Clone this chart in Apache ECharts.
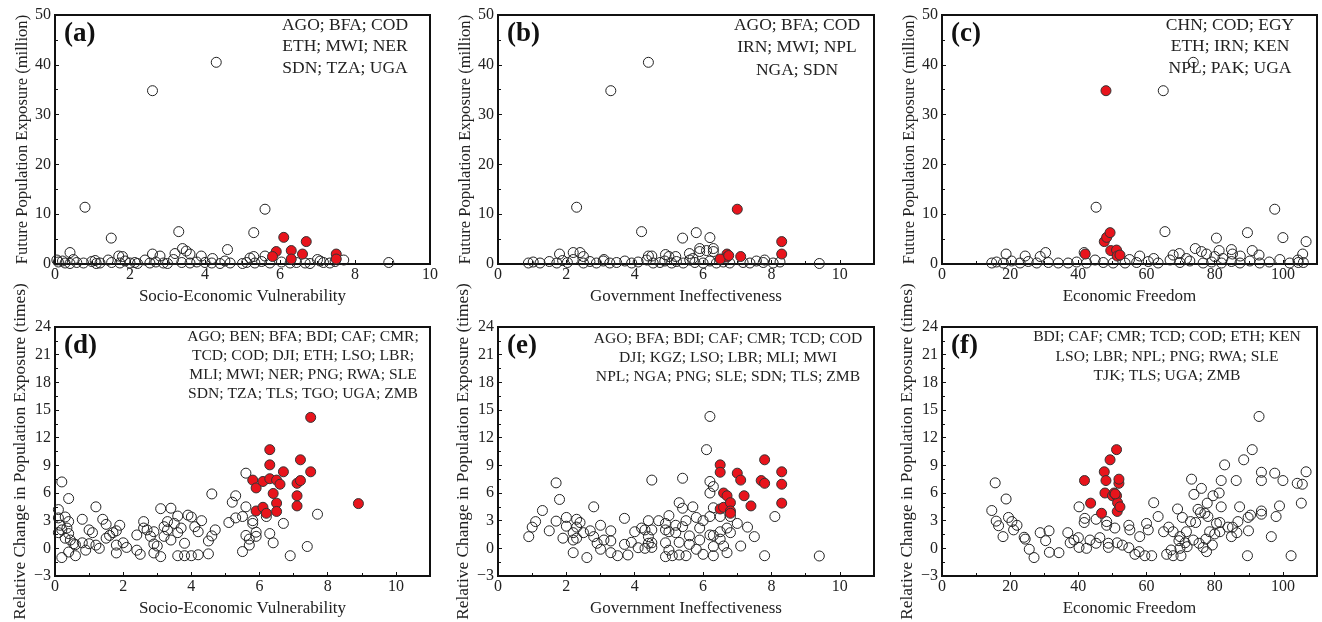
<!DOCTYPE html>
<html><head><meta charset="utf-8">
<script src="https://cdn.jsdelivr.net/npm/echarts@6/dist/echarts.min.js"></script>
<style>html,body{margin:0;padding:0;background:#fff}#c{width:1322px;height:622px}</style>
</head><body><div id="c"></div>
<script>
// ---------- DATA ----------
const xTitles = ['Socio-Economic Vulnerability','Government Ineffectiveness','Economic Freedom'];
const yTitleTop = 'Future Population Exposure (million)';
const yTitleBottom = 'Relative Change in Population Exposure (times)';
const panelLetters = ['(a)','(b)','(c)','(d)','(e)','(f)'];
const annA = ['AGO; BFA; COD','ETH; MWI; NER','SDN; TZA; UGA'];
const annB = ['AGO; BFA; COD','IRN; MWI; NPL','NGA; SDN'];
const annC = ['CHN; COD; EGY','ETH; IRN; KEN','NPL; PAK; UGA'];
const annD = ['AGO; BEN; BFA; BDI; CAF; CMR;','TCD; COD; DJI; ETH; LSO; LBR;','MLI; MWI; NER; PNG; RWA; SLE','SDN; TZA; TLS; TGO; UGA; ZMB'];
const annE = ['AGO; BFA; BDI; CAF; CMR; TCD; COD','DJI; KGZ; LSO; LBR; MLI; MWI','NPL; NGA; PNG; SLE; SDN; TLS; ZMB'];
const annF = ['BDI; CAF; CMR; TCD; COD; ETH; KEN','LSO; LBR; NPL; PNG; RWA; SLE','TJK; TLS; UGA; ZMB'];

const aOpen = [[2.6,34.8],[4.3,40.5],[0.8,11.4],[5.6,11.0],[1.5,5.2],[3.3,6.5],[5.3,6.3],[0.4,2.3],[4.6,2.9],[3.4,3.1],[3.5,2.6],[3.2,2.1],[3.6,2.0],[2.6,2.0],[2.8,1.6],[1.7,1.6],[1.8,1.5],[3.9,1.6],[4.2,1.1],[5.3,1.5],[5.6,1.6],[7.7,0.8],[8.9,0.3],
[0.09,0.4],[0.27,0.2],[0.49,0.9],[0.58,0.3],[0.76,0.2],[0.98,0.5],[1.07,0.7],[1.2,0.2],[1.42,0.8],[1.51,0.3],[1.73,0.2],[1.87,0.6],[2.0,0.2],[2.13,0.3],[2.4,0.8],[2.53,0.2],[2.69,0.4],[2.89,0.2],[3.16,0.9],[3.38,0.3],[3.6,0.2],[3.78,0.4],[4.0,0.3],[4.18,0.2],[4.53,0.6],[4.67,0.2],[5.11,0.3],[5.2,1.2],[5.33,0.2],[5.51,0.5],[5.73,0.2],[6.04,0.4],[6.27,0.2],[6.44,0.3],[6.67,0.2],[7.07,0.6],[7.16,0.3],[7.33,0.2],[7.47,0.5],[0.05,0.8],[0.2,0.6],[0.4,0.1],[1.1,0.1],[2.2,0.1],[3.0,0.1],[4.4,0.1],[5.0,0.1],[6.8,0.1],[7.0,0.9]];
const aRed = [[6.1,5.35],[6.7,4.5],[5.9,2.5],[5.8,1.5],[6.3,2.7],[6.3,1.0],[6.6,2.0],[7.5,2.0],[7.5,1.0]];

const bOpen = [[3.3,34.8],[4.4,40.5],[2.3,11.4],[4.2,6.5],[5.8,6.3],[5.4,5.2],[6.2,5.3],[1.8,2.0],[2.2,2.3],[2.4,2.3],[2.5,1.5],[3.1,0.9],[4.4,1.6],[4.5,1.6],[4.9,1.9],[5.0,1.5],[5.2,1.5],[5.6,2.1],[5.9,3.1],[5.9,2.5],[6.1,2.7],[6.3,3.1],[6.3,2.5],[5.7,1.1],[7.8,0.8],[9.4,0.1],
[0.89,0.2],[1.03,0.4],[1.23,0.2],[1.5,0.5],[1.72,0.2],[1.89,0.7],[2.03,0.3],[2.2,0.9],[2.5,0.2],[2.69,0.5],[2.88,0.2],[3.08,0.6],[3.27,0.2],[3.47,0.3],[3.71,0.6],[3.91,0.2],[4.1,0.4],[4.35,0.8],[4.54,0.2],[4.74,0.3],[4.88,0.6],[5.08,0.2],[5.22,0.5],[5.42,0.2],[5.61,0.8],[5.76,0.3],[6.0,0.2],[6.2,0.6],[6.39,0.2],[6.59,0.4],[6.78,0.2],[7.17,0.3],[7.37,0.2],[7.56,0.6],[7.76,0.3],[8.05,0.2],[8.25,0.4]];
const bRed = [[7.0,11.0],[8.3,4.5],[8.3,2.0],[6.7,2.0],[6.7,1.4],[6.5,1.0],[7.1,1.5],[6.75,1.7]];

const cOpen = [[73.7,40.5],[64.9,34.8],[45.2,11.4],[97.6,11.0],[65.4,6.5],[89.6,6.3],[80.5,5.2],[100,5.3],[106.8,4.5],[18.8,2.0],[24.4,1.6],[28.8,1.5],[30.4,2.3],[41.7,2.3],[58,1.6],[62.1,1.1],[69.6,2.1],[71.7,1.1],[74.3,3.1],[76.1,2.5],[77.6,2.0],[81.3,2.7],[84.9,2.9],[85.2,2.0],[87.5,1.6],[91,2.7],[93,1.8],[105.8,2.0],[104.4,0.8],[80,1.5],[82.4,1.1],[67.8,1.8],
[14.6,0.2],[16.0,0.4],[18.0,0.2],[20.4,0.6],[22.9,0.2],[25.3,0.5],[27.8,0.2],[31.2,0.3],[34.1,0.2],[37.0,0.2],[39.5,0.4],[42.4,0.2],[44.9,0.8],[47.3,0.3],[50.2,0.2],[53.7,0.2],[55.0,0.9],[57.1,0.3],[60.5,0.5],[63.4,0.2],[66.9,0.8],[69.8,0.3],[72.7,0.6],[76.6,0.2],[79.1,0.4],[82.0,0.2],[84.9,0.5],[87.4,0.2],[90.3,0.6],[93.2,0.2],[96.0,0.4],[99.1,0.9],[102.0,0.2],[104.5,0.3],[106.0,0.3]];
const cRed = [[48.1,34.8],[42,2.0],[47.6,4.5],[48.3,5.35],[49.3,6.3],[49.5,2.7],[51.2,2.8],[51.4,1.6],[52.2,1.8]];

const dOpen = [[0.2,7.2],[0.1,4.2],[0.4,5.4],[0.1,3.3],[0.3,3.4],[0.4,2.9],[0.15,2.5],[0.2,2.0],[0.1,1.7],[0.35,2.2],[0.4,1.6],[0.3,1.1],[0.45,0.9],[0.55,0.5],[0.4,-0.4],[0.2,-1.0],[0.6,-0.8],[0.6,0.4],[0.8,3.15],[0.8,0.6],[0.9,-0.2],[1.0,2.0],[1.0,0.5],[1.1,1.7],[1.2,4.5],[1.2,0.35],[1.3,0.0],[1.4,3.15],[1.5,2.6],[1.5,1.1],[1.6,1.4],[1.7,1.7],[1.8,1.9],[1.9,2.5],[1.8,0.35],[1.8,-0.5],[2.0,0.6],[2.1,0.1],[2.4,1.45],[2.4,-0.2],[2.5,-0.65],[2.6,2.9],[2.6,2.2],[2.7,2.0],[2.8,1.3],[2.9,1.8],[2.9,0.47],[2.9,-0.5],[3.0,0.25],[3.1,4.3],[3.1,-0.9],[3.2,2.35],[3.2,1.3],[3.3,2.9],[3.4,4.35],[3.4,0.9],[3.3,2.0],[3.5,2.7],[3.6,3.5],[3.6,1.7],[3.6,-0.8],[3.7,2.2],[3.8,0.55],[3.8,-0.8],[3.9,3.6],[4.0,3.4],[4.0,-0.8],[4.1,2.35],[4.2,1.8],[4.2,-0.7],[4.3,3.0],[4.5,-0.6],[4.5,0.8],[4.6,1.35],[4.6,5.9],[4.7,2.0],[5.1,2.8],[5.2,5.0],[5.3,5.7],[5.3,3.3],[5.5,3.45],[5.5,-0.35],[5.6,8.15],[5.6,4.5],[5.6,1.4],[5.7,0.35],[5.7,1.0],[5.8,3.0],[5.8,2.7],[5.9,1.75],[5.9,1.3],[6.2,3.45],[6.3,1.6],[6.4,0.6],[6.7,2.7],[6.9,-0.8],[7.4,0.2],[7.7,3.7]];
const dRed = [[5.8,7.4],[5.9,6.55],[5.9,4.05],[6.1,7.25],[6.1,4.45],[6.2,3.8],[6.3,10.7],[6.3,9.05],[6.3,7.55],[6.4,5.95],[6.5,7.4],[6.5,4.9],[6.5,4.0],[6.6,6.95],[6.7,8.3],[7.1,7.05],[7.1,5.7],[7.1,4.6],[7.2,7.35],[7.2,9.6],[7.5,14.2],[7.5,8.3],[8.9,4.85]];

const eOpen = [[0.9,1.27],[1.0,2.3],[1.1,2.9],[1.3,4.1],[1.5,1.9],[1.7,7.1],[1.7,2.95],[1.8,5.3],[1.9,1.1],[2.0,3.35],[2.0,2.4],[2.2,1.7],[2.2,0.9],[2.2,-0.47],[2.3,3.15],[2.3,2.3],[2.4,2.8],[2.3,1.1],[2.5,1.7],[2.6,-1.0],[2.8,4.5],[2.7,1.9],[2.8,1.27],[2.9,0.55],[3.0,2.5],[3.0,-0.1],[3.1,0.9],[3.3,1.9],[3.3,0.8],[3.3,-0.47],[3.5,-0.8],[3.7,3.25],[3.7,0.43],[3.8,-0.72],[3.9,0.65],[4.0,1.8],[4.1,0.07],[4.2,2.2],[4.3,2.0],[4.3,0.0],[4.4,3.0],[4.4,1.27],[4.4,0.55],[4.5,7.4],[4.5,2.0],[4.5,0.1],[4.5,0.6],[4.7,3.0],[4.9,2.7],[4.9,2.0],[4.9,0.6],[4.9,-0.9],[5.0,3.55],[5.0,1.8],[5.0,-0.2],[5.1,-0.8],[5.2,2.5],[5.2,1.7],[5.3,4.95],[5.3,0.65],[5.3,-0.72],[5.4,7.6],[5.4,4.35],[5.4,2.35],[5.5,3.0],[5.5,-0.8],[5.6,1.35],[5.6,0.43],[5.7,4.5],[5.8,3.35],[5.8,-0.1],[5.9,0.9],[5.9,2.2],[6.0,3.0],[6.0,-0.65],[6.1,10.7],[6.2,14.3],[6.2,7.25],[6.2,6.0],[6.2,3.45],[6.2,1.45],[6.3,6.7],[6.3,4.4],[6.3,1.4],[6.3,0.2],[6.3,-0.8],[6.5,3.45],[6.5,1.8],[6.5,1.0],[6.6,0.25],[6.7,-0.47],[6.7,2.2],[6.8,1.7],[6.8,3.45],[7.0,2.7],[7.1,0.25],[7.3,2.3],[7.5,1.27],[7.8,-0.8],[8.1,3.45],[9.4,-0.83]];
const eRed = [[6.5,9.05],[6.5,8.25],[6.5,4.27],[6.6,6.0],[6.6,4.45],[6.7,5.7],[6.8,4.95],[6.8,4.05],[6.8,3.8],[7.0,8.15],[7.1,7.4],[7.2,5.7],[7.4,4.6],[7.7,7.35],[7.8,9.6],[7.8,7.05],[8.3,8.3],[8.3,6.95],[8.3,4.9]];

const fOpen = [[14.6,4.1],[15.6,7.1],[15.9,2.95],[16.6,2.45],[17.9,1.27],[18.8,5.35],[19.5,3.35],[20.5,2.9],[21.0,2.0],[22.0,2.5],[24.1,1.2],[24.4,1.0],[25.6,-0.1],[27.0,-1.0],[28.8,1.7],[30.4,0.83],[31.4,1.9],[31.5,-0.43],[34.3,-0.47],[36.9,1.7],[37.6,0.6],[38.7,0.9],[40.0,1.16],[40.2,4.5],[40.2,0.1],[41.7,2.8],[41.9,3.25],[42.4,0.0],[43.4,0.9],[45.2,3.15],[45.2,0.55],[46.3,1.16],[48.3,2.5],[48.3,2.9],[48.8,0.55],[48.8,0.1],[50.7,2.2],[51.4,0.6],[52.9,0.35],[54.8,0.07],[54.8,2.5],[55.1,2.0],[56.6,-0.65],[57.8,-0.36],[58.0,1.27],[59.5,-0.8],[60.0,2.7],[60.5,2.0],[61.5,-0.8],[62.1,4.95],[63.4,3.45],[65.0,1.8],[65.9,-0.65],[66.5,2.3],[67.2,-0.18],[67.8,1.8],[67.8,-0.8],[69.1,4.27],[69.5,0.83],[69.8,1.27],[69.8,0.0],[70.1,-0.8],[70.5,3.35],[71.3,0.6],[71.7,1.8],[71.9,0.18],[72.9,2.9],[73.2,7.5],[73.7,0.9],[73.9,5.85],[74.4,2.8],[75.1,4.23],[75.4,0.55],[75.8,3.87],[76.1,6.5],[76.6,0.1],[77.1,3.8],[77.4,1.0],[77.6,-0.36],[77.8,4.9],[78.0,3.45],[78.5,1.8],[79.3,0.36],[79.5,5.7],[80.0,1.56],[80.5,2.7],[81.3,6.0],[81.5,2.8],[81.5,1.8],[81.9,4.5],[81.9,7.35],[82.9,9.05],[83.9,2.3],[84.9,1.27],[85.2,2.3],[86.3,7.35],[86.5,1.7],[86.8,2.9],[87.3,4.5],[88.5,9.6],[89.6,-0.8],[89.8,3.35],[89.9,1.9],[90.5,3.6],[91.0,10.7],[93.0,14.3],[93.7,8.25],[93.7,7.35],[93.7,4.05],[93.7,3.7],[96.6,1.27],[97.6,8.15],[98.0,3.45],[99.0,4.6],[100.0,7.35],[102.4,-0.8],[104.2,7.05],[105.4,4.9],[105.7,6.95],[106.8,8.3]];
const fRed = [[41.8,7.35],[43.6,4.9],[46.8,3.8],[47.6,8.3],[47.8,6.0],[48.1,7.35],[49.3,9.6],[50.0,5.7],[50.5,6.0],[51.2,10.7],[51.2,5.7],[51.4,4.0],[51.5,4.95],[51.9,7.05],[51.9,7.5],[52.2,4.5],[50.8,5.9]];

// ---------- LAYOUT ----------
const FONT = '"Liberation Serif","Times New Roman",serif';
const grids = [
  {left:55, top:15, width:375, height:249},
  {left:498, top:15, width:376, height:249},
  {left:942, top:15, width:375, height:249},
  {left:55, top:327, width:375, height:249},
  {left:498, top:327, width:376, height:249},
  {left:942, top:327, width:375, height:249}
];
const xRanges = [[0,10,2],[0,11,2],[0,110,20],[0,11,2],[0,11,2],[0,110,20]];
const openSets = [aOpen,bOpen,cOpen,dOpen,eOpen,fOpen];
const redSets = [aRed,bRed,cRed,dRed,eRed,fRed];
const anns = [annA,annB,annC,annD,annE,annF];
const annCenters = [[345,25,21.5],[797,25,22.5],[1230,25,21.5],[303,337,19],[728,339,19],[1167,337,19.5]];

const chart = echarts.init(document.getElementById('c'), null, {renderer:'canvas'});
const fmt = v => (v < 0 ? '\u2212' + Math.abs(v) : String(v));
const option = {
  animation:false,
  backgroundColor:'#fff',
  grid: grids.map(g => Object.assign({show:true, borderColor:'#111', borderWidth:2, backgroundColor:'transparent'}, g)),
  xAxis: grids.map((g,i) => ({
    type:'value', gridIndex:i, min:xRanges[i][0], max:xRanges[i][1], interval:xRanges[i][2],
    name: xTitles[i%3], nameLocation:'middle', nameGap:24,
    nameTextStyle:{fontFamily:FONT, fontSize:17, color:'#222'},
    axisLine:{show:true, onZero:false, lineStyle:{color:'#111', width:2}},
    axisTick:{show:true, inside:true, length:4, lineStyle:{color:'#111'}},
    minorTick:{show:true, splitNumber:2, length:3, lineStyle:{color:'#111'}},
    splitLine:{show:false},
    axisLabel:{fontFamily:FONT, fontSize:16, color:'#222', margin:3, showMaxLabel: xRanges[i][1] % xRanges[i][2] === 0, formatter: fmt}
  })),
  yAxis: grids.map((g,i) => ({
    type:'value', gridIndex:i, min: i<3 ? 0 : -3, max: i<3 ? 50 : 24, interval: i<3 ? 10 : 3,
    name: i<3 ? yTitleTop : yTitleBottom, nameLocation:'middle', nameGap: i<3 ? 24 : 26,
    nameTextStyle:{fontFamily:FONT, fontSize: i<3 ? 16.6 : 17.4, color:'#222'},
    axisLine:{show:true, onZero:false, lineStyle:{color:'#111', width:2}},
    axisTick:{show:true, inside:true, length:4, lineStyle:{color:'#111'}},
    minorTick:{show:true, splitNumber:2, length:3, lineStyle:{color:'#111'}},
    splitLine:{show:false},
    axisLabel:{fontFamily:FONT, fontSize:16, color:'#222', margin:4, formatter: fmt}
  })),
  series: [],
  graphic: []
};
for (let i=0;i<6;i++){
  option.series.push({type:'scatter', xAxisIndex:i, yAxisIndex:i, data:openSets[i], symbol:'circle', symbolSize:10,
    itemStyle:{color:'rgba(255,255,255,0)', borderColor:'#222', borderWidth:1, opacity:1}, z:2});
  option.series.push({type:'scatter', xAxisIndex:i, yAxisIndex:i, data:redSets[i], symbol:'circle', symbolSize:10,
    itemStyle:{color:'#e8141c', borderColor:'#333', borderWidth:1, opacity:1}, z:3});
  const g = grids[i];
  option.graphic.push({type:'text', z:10, style:{text:panelLetters[i], x:g.left+9, y:g.top+19,
    font:'bold 27px ' + FONT, fill:'#111', textVerticalAlign:'middle', verticalAlign:'middle'}});
  const [cx, cy, lh] = annCenters[i];
  const fs = i < 3 ? 17.5 : 15.6;
  anns[i].forEach((line, k) => {
    option.graphic.push({type:'text', z:10, style:{text:line, x:cx, y:cy + k*lh, font:fs + 'px ' + FONT, fill:'#222',
      textAlign:'center', align:'center', textVerticalAlign:'middle', verticalAlign:'middle'}});
  });
}
chart.setOption(option);
</script>
</body></html>
